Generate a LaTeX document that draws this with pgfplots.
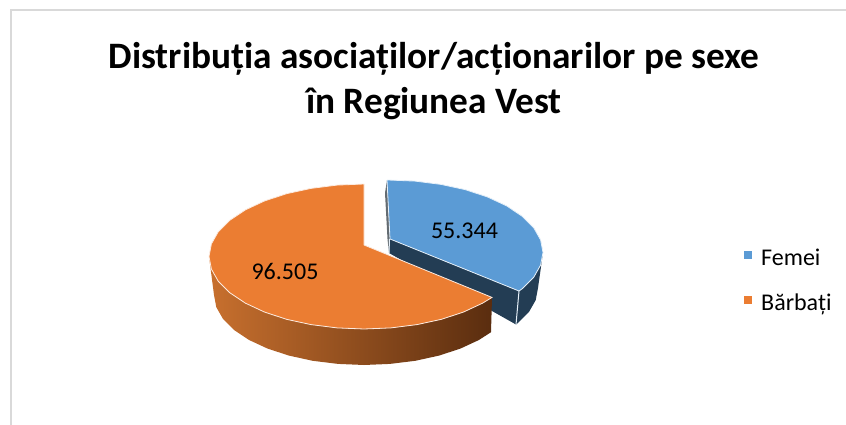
\documentclass[border=0pt]{standalone}
\usepackage{fontspec}
\setmainfont{Carlito}
\usepackage{pgfplots}
\pgfplotsset{compat=1.18}
\definecolor{femei}{HTML}{5B9BD5}
\definecolor{barbati}{HTML}{EB7D32}
\definecolor{femeidark}{HTML}{233D54}
\definecolor{frame}{HTML}{D9D9D9}

\begin{document}
\begin{tikzpicture}
\path[use as bounding box] (0,0) rectangle (846pt,425pt);
\begin{axis}[
    at={(0,0)}, anchor=south west,
    scale only axis, width=846pt, height=425pt,
    xmin=0, xmax=846, ymin=0, ymax=425,
    y dir=reverse,
    hide axis, clip=false,
    legend style={
        at={(axis cs:744,280.5)}, anchor=west,
        draw=none, fill=none, font=\fontsize{24}{28}\selectfont,
        row sep=23pt, inner sep=0pt,
        /tikz/every odd column/.append style={column sep=7pt},
    },
    legend cell align=left,
    legend image code/.code={\fill[#1,draw=none] (0pt,-1pt) rectangle (8pt,7pt);},
]
% frame of the chart area
\addplot[forget plot, color=frame, line width=2pt] coordinates {(10.5,425) (10.5,10.5) (846,10.5)};

% Femei: walls
\addplot[forget plot, fill=femeidark, draw=none] coordinates {
    (390,239) (519,291) (516,324.5) (389,253) (390,239)};
\addplot[forget plot, fill=femeidark, draw=none] coordinates {
    (519,291) (522.2,288.75) (533.7,277.3) (540.6,265.1) (543,252.5) (538,288)
    (535.7,300.2) (529,311.9) (517.9,323) (516,324.5) (519,291)};
\addplot[forget plot, fill=gray!70!femeidark, draw=none] coordinates {
    (385,193) (387.5,239) (389,253) (390,239) (387,180) (385,193)};
\addplot[forget plot, color=white!85!femei, line width=1pt] coordinates {(519,291) (516,324.5)};
\addplot[forget plot, color=white!85!femei, line width=1pt] coordinates {(389.5,239) (389,253)};

% Femei: top
\addplot[fill=femei, draw=white!85!femei, line width=0.8pt] coordinates {
    (387,180) (388,180) (414.9,181.1) (441,184.4) (465.5,189.7) (487.6,197)
    (506.7,205.9) (522.2,216.25) (533.7,227.7) (540.6,239.9) (543,252.5)
    (540.6,265.1) (533.7,277.3) (522.2,288.75) (519,291) (390,239) (387,180)};
\addlegendentry{Femei}

% Bărbați: side with the light running from left to right
\addplot[forget plot, draw=none,
    left color={rgb,255:red,200;green,112;blue,46},
    middle color={rgb,255:red,154;green,85;blue,34},
    right color={rgb,255:red,90;green,45;blue,15}] coordinates {
    (492,297.4) (482.7,303.1) (463.6,312) (441.5,319.3) (417,324.6) (390.9,327.9)
    (364,329) (337.1,327.9) (311,324.6) (286.5,319.3) (264.4,312) (245.3,303.1)
    (229.8,292.75) (218.3,281.3) (211.4,269.1) (209,256.5)
    (214,295) (216.3,307.2) (223,318.9) (234.1,330) (249.1,340) (267.6,348.6)
    (289,355.6) (312.7,360.8) (338,363.9) (364,365) (390,363.9) (415.3,360.8)
    (439,355.6) (460.4,348.6) (478.9,340) (491,332.2) (492,297.4)};

% Bărbați: top
\addplot[fill=barbati, draw=white!85!barbati, line width=0.8pt] coordinates {
    (364,245) (492,297.4) (482.7,303.1) (463.6,312) (441.5,319.3) (417,324.6)
    (390.9,327.9) (364,329) (337.1,327.9) (311,324.6) (286.5,319.3) (264.4,312)
    (245.3,303.1) (229.8,292.75) (218.3,281.3) (211.4,269.1) (209,256.5)
    (211.4,243.9) (218.3,231.7) (229.8,220.25) (245.3,209.9) (264.4,201)
    (286.5,193.7) (311,188.4) (337.1,185.1) (364,184) (364,245)};
\addlegendentry{Bărbați}

\node[font=\fontsize{24}{28}\selectfont] at (axis cs:464.5,231) {55.344};
\node[font=\fontsize{24}{28}\selectfont] at (axis cs:285,271) {96.505};
\node[align=center, font=\fontsize{37.3}{45}\selectfont\bfseries] at (axis cs:434,81)
    {Distribuția asociaților/acționarilor pe sexe\\în Regiunea Vest};
\end{axis}
\end{tikzpicture}
\end{document}
